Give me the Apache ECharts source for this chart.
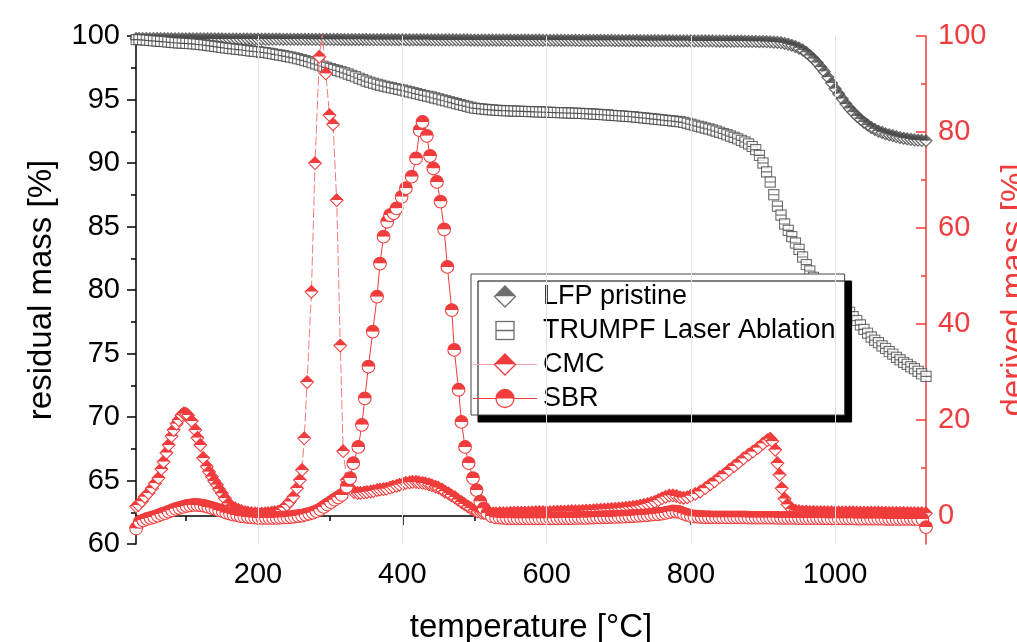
<!DOCTYPE html>
<html>
<head>
<meta charset="utf-8">
<script src="https://cdn.jsdelivr.net/npm/echarts@6/dist/echarts.min.js"></script>
<style>
  html, body { margin: 0; padding: 0; background: #fff; }
  #chart { width: 1017px; height: 642px; }
</style>
</head>
<body>
<div id="chart"></div>
<script>
// residual mass [%] (left axis) - [temperature, value]
var lfpPristine = [
  [31,99.8],[35,99.8],[40,99.8],[45,99.8],[50,99.79],[55,99.79],[60,99.79],[65,99.79],[70,99.79],[75,99.78],
  [80,99.78],[85,99.78],[90,99.78],[95,99.78],[100,99.78],[105,99.78],[110,99.78],[115,99.77],[120,99.77],[125,99.77],
  [130,99.77],[135,99.77],[140,99.77],[145,99.77],[150,99.77],[155,99.76],[160,99.76],[165,99.76],[170,99.76],[175,99.76],
  [180,99.76],[185,99.76],[190,99.76],[195,99.75],[200,99.75],[205,99.75],[210,99.75],[215,99.75],[220,99.75],[225,99.75],
  [230,99.75],[235,99.74],[240,99.74],[245,99.74],[250,99.74],[255,99.74],[260,99.74],[265,99.74],[270,99.74],[275,99.73],
  [280,99.73],[285,99.73],[290,99.73],[295,99.73],[300,99.73],[305,99.73],[310,99.73],[315,99.72],[320,99.72],[325,99.72],
  [330,99.72],[335,99.72],[340,99.72],[345,99.72],[350,99.72],[355,99.71],[360,99.71],[365,99.71],[370,99.71],[375,99.71],
  [380,99.71],[385,99.71],[390,99.71],[395,99.7],[400,99.7],[405,99.7],[410,99.7],[415,99.7],[420,99.7],[425,99.7],
  [430,99.7],[435,99.7],[440,99.7],[445,99.69],[450,99.69],[455,99.69],[460,99.69],[465,99.69],[470,99.69],[475,99.69],
  [480,99.69],[485,99.69],[490,99.69],[495,99.68],[500,99.68],[505,99.68],[510,99.68],[515,99.68],[520,99.68],[525,99.68],
  [530,99.68],[535,99.68],[540,99.68],[545,99.67],[550,99.67],[555,99.67],[560,99.67],[565,99.67],[570,99.67],[575,99.67],
  [580,99.67],[585,99.67],[590,99.67],[595,99.66],[600,99.66],[605,99.66],[610,99.66],[615,99.66],[620,99.66],[625,99.66],
  [630,99.66],[635,99.66],[640,99.66],[645,99.65],[650,99.65],[655,99.65],[660,99.65],[665,99.65],[670,99.65],[675,99.65],
  [680,99.65],[685,99.65],[690,99.65],[695,99.64],[700,99.64],[705,99.64],[710,99.64],[715,99.64],[720,99.64],[725,99.64],
  [730,99.64],[735,99.63],[740,99.63],[745,99.63],[750,99.63],[755,99.63],[760,99.63],[765,99.63],[770,99.63],[775,99.62],
  [780,99.62],[785,99.62],[790,99.62],[795,99.62],[800,99.62],[805,99.61],[810,99.61],[815,99.61],[820,99.61],[825,99.61],
  [830,99.61],[835,99.6],[840,99.6],[845,99.6],[850,99.6],[855,99.59],[860,99.59],[865,99.59],[870,99.59],[875,99.58],
  [880,99.58],[885,99.57],[890,99.57],[895,99.56],[900,99.56],[905,99.55],[910,99.54],[915,99.52],[920,99.5],[925,99.47],
  [930,99.42],[935,99.35],[940,99.27],[945,99.17],[950,99.05],[955,98.9],[960,98.7],[965,98.45],[970,98.2],[975,97.9],
  [980,97.55],[985,97.2],[990,96.75],[995,96.3],[1000,95.85],[1005,95.45],[1010,95.05],[1015,94.65],[1020,94.3],[1025,94.0],
  [1030,93.7],[1035,93.45],[1040,93.2],[1045,93.0],[1050,92.8],[1055,92.65],[1060,92.5],[1065,92.4],[1070,92.3],[1075,92.22],
  [1080,92.15],[1085,92.07],[1090,92.0],[1095,91.95],[1100,91.9],[1105,91.86],[1110,91.82],[1115,91.8],[1120,91.78],[1126,91.75]
];

var trumpfAblation = [
  [31,99.72],[35,99.71],[40,99.7],[45,99.68],[50,99.65],[55,99.62],[60,99.6],[65,99.58],[70,99.56],[75,99.53],
  [80,99.5],[85,99.47],[90,99.45],[95,99.44],[100,99.42],[105,99.4],[110,99.38],[115,99.36],[120,99.33],[125,99.3],
  [130,99.26],[135,99.22],[140,99.18],[145,99.14],[150,99.1],[155,99.06],[160,99.02],[165,98.99],[170,98.96],[175,98.93],
  [180,98.9],[185,98.86],[190,98.82],[195,98.79],[200,98.76],[205,98.73],[210,98.7],[215,98.65],[220,98.6],[225,98.55],
  [230,98.5],[235,98.45],[240,98.4],[245,98.34],[250,98.28],[255,98.21],[260,98.14],[265,98.06],[270,97.98],[275,97.89],
  [280,97.8],[285,97.71],[290,97.62],[295,97.53],[300,97.44],[305,97.36],[310,97.28],[315,97.19],[320,97.1],[325,97.0],
  [330,96.9],[335,96.79],[340,96.68],[345,96.56],[350,96.45],[355,96.36],[360,96.28],[365,96.2],[370,96.12],[375,96.05],
  [380,95.98],[385,95.92],[390,95.86],[395,95.8],[400,95.74],[405,95.67],[410,95.6],[415,95.53],[420,95.46],[425,95.39],
  [430,95.32],[435,95.26],[440,95.2],[445,95.12],[450,95.05],[455,94.97],[460,94.9],[465,94.82],[470,94.75],[475,94.67],
  [480,94.6],[485,94.53],[490,94.46],[495,94.39],[500,94.32],[505,94.29],[510,94.26],[515,94.23],[520,94.2],[525,94.18],
  [530,94.16],[535,94.14],[540,94.12],[545,94.11],[550,94.1],[555,94.09],[560,94.08],[565,94.07],[570,94.06],[575,94.05],
  [580,94.04],[585,94.03],[590,94.02],[595,94.01],[600,94.0],[605,93.99],[610,93.98],[615,93.97],[620,93.96],[625,93.95],
  [630,93.94],[635,93.93],[640,93.92],[645,93.91],[650,93.9],[655,93.88],[660,93.87],[665,93.85],[670,93.84],[675,93.82],
  [680,93.8],[685,93.78],[690,93.76],[695,93.74],[700,93.72],[705,93.7],[710,93.68],[715,93.66],[720,93.64],[725,93.61],
  [730,93.58],[735,93.55],[740,93.52],[745,93.49],[750,93.46],[755,93.43],[760,93.4],[765,93.37],[770,93.34],[775,93.31],
  [780,93.28],[785,93.24],[790,93.2],[795,93.13],[800,93.05],[805,92.98],[810,92.9],[815,92.83],[820,92.75],[825,92.68],
  [830,92.6],[835,92.51],[840,92.42],[845,92.32],[850,92.22],[855,92.12],[860,92.02],[865,91.9],[870,91.78],[875,91.65],
  [880,91.5],[885,91.3],[890,91.05],[895,90.6],[900,90.0],[905,89.3],[910,88.5],[915,87.5],[920,86.6],[925,85.9],
  [930,85.2],[935,84.7],[940,84.2],[945,83.7],[950,83.2],[955,82.6],[960,82.0],[965,81.5],[970,81.0],[975,80.7],
  [980,80.4],[985,80.1],[990,79.85],[995,79.6],[1000,79.35],[1005,79.1],[1010,78.8],[1015,78.5],[1020,78.25],[1025,77.9],
  [1030,77.6],[1035,77.25],[1040,76.9],[1045,76.6],[1050,76.3],[1055,76.05],[1060,75.85],[1065,75.6],[1070,75.4],[1075,75.15],
  [1080,74.95],[1085,74.7],[1090,74.5],[1095,74.3],[1100,74.15],[1105,73.95],[1110,73.8],[1115,73.6],[1120,73.4],[1126,73.2]
];

// derived mass [%] (right axis) - [temperature, value]
var cmc = [
  [31,2.0],[34,2.3],[39,3.1],[43,4.0],[48,4.8],[53,5.8],[57,6.8],[62,7.9],[66,9.8],[69,11.3],
  [73,13.2],[76,14.8],[80,16.6],[83,17.9],[87,19.2],[90,20.0],[94,21.0],[97,21.4],[100,21.3],[103,21.0],
  [108,19.8],[113,17.9],[116,16.3],[120,14.8],[124,12.1],[129,10.3],[132,9.2],[136,8.2],[139,7.3],[143,6.5],
  [146,5.6],[150,4.7],[154,3.7],[159,2.6],[163,2.0],[168,1.6],[173,1.25],[177,1.0],[182,0.8],[186,0.7],
  [191,0.6],[196,0.55],[200,0.5],[205,0.5],[210,0.55],[214,0.6],[219,0.7],[223,0.8],[228,0.9],[232,1.2],
  [236,1.7],[240,2.3],[244,3.0],[249,4.0],[254,5.8],[258,7.5],[261,9.6],[264,16.2],[268,27.9],[274,46.7],
  [279,73.5],[285,95.7],[289,100.5],[294,92.2],[299,83.5],[304,81.6],[309,65.8],[314,35.5],[318,13.5],[323,7.5],
  [328,5.8],[333,5.0],[338,4.8],[342,4.8],[347,4.9],[351,5.0],[356,5.1],[360,5.2],[365,5.4],[369,5.5],
  [374,5.6],[378,5.7],[383,5.9],[387,6.1],[392,6.3],[396,6.5],[401,6.7],[405,6.9],[410,7.0],[414,7.1],
  [419,7.1],[423,7.0],[428,6.9],[432,6.8],[437,6.6],[441,6.4],[446,6.1],[450,5.9],[455,5.5],[459,5.1],
  [464,4.7],[468,4.3],[473,3.9],[477,3.4],[482,2.9],[486,2.5],[491,2.0],[495,1.6],[500,1.2],[504,0.9],
  [509,0.7],[513,0.6],[518,0.5],[522,0.5],[526,0.5],[530,0.55],[535,0.6],[540,0.6],[545,0.6],[550,0.65],
  [555,0.7],[560,0.7],[565,0.7],[570,0.7],[575,0.7],[580,0.75],[585,0.8],[590,0.8],[595,0.8],[600,0.8],
  [605,0.8],[610,0.85],[615,0.9],[620,0.9],[625,0.9],[630,0.95],[635,1.0],[640,1.0],[645,1.0],[650,1.05],
  [655,1.1],[660,1.15],[665,1.2],[670,1.25],[675,1.3],[680,1.35],[685,1.4],[690,1.45],[695,1.5],[700,1.55],
  [705,1.6],[710,1.7],[715,1.8],[720,1.9],[725,2.0],[730,2.15],[735,2.3],[740,2.5],[745,2.7],[750,2.95],
  [755,3.3],[760,3.7],[765,4.0],[770,4.25],[775,4.3],[780,4.15],[785,3.9],[790,3.8],[795,3.9],[800,4.2],
  [806,4.6],[813,5.1],[820,5.8],[827,6.6],[833,7.2],[840,8.1],[846,8.7],[853,9.6],[860,10.4],[866,11.1],
  [873,12.0],[880,12.8],[886,13.4],[893,14.2],[900,15.1],[906,15.8],[910,16.1],[913,15.6],[917,13.8],[920,11.0],
  [923,8.6],[926,5.8],[930,3.6],[934,2.4],[940,1.4],[945,1.1],[950,1.0],[955,0.9],[960,0.9],[965,0.85],
  [970,0.85],[975,0.8],[980,0.8],[985,0.8],[990,0.8],[995,0.8],[1000,0.78],[1005,0.75],[1010,0.75],[1015,0.75],
  [1020,0.75],[1025,0.75],[1030,0.72],[1035,0.7],[1040,0.7],[1045,0.7],[1050,0.7],[1055,0.7],[1060,0.7],[1065,0.7],
  [1070,0.68],[1075,0.65],[1080,0.65],[1085,0.65],[1090,0.65],[1095,0.65],[1100,0.62],[1105,0.6],[1110,0.6],[1115,0.6],
  [1120,0.6],[1126,0.6]
];

var sbr = [
  [31,-2.6],[36,-1.2],[41,-0.9],[46,-0.6],[51,-0.4],[56,-0.2],[61,0.1],[66,0.4],[71,0.6],[76,0.9],
  [81,1.2],[86,1.5],[91,1.7],[96,1.9],[101,2.1],[106,2.2],[111,2.3],[116,2.3],[121,2.2],[126,2.1],
  [131,1.9],[136,1.7],[141,1.5],[146,1.2],[151,1.0],[156,0.7],[161,0.5],[166,0.3],[171,0.2],[176,0.0],
  [181,-0.1],[186,-0.2],[191,-0.3],[196,-0.35],[201,-0.4],[206,-0.4],[211,-0.4],[216,-0.4],[221,-0.4],[226,-0.4],
  [231,-0.35],[236,-0.3],[241,-0.3],[246,-0.2],[251,-0.1],[256,0.0],[261,0.1],[266,0.3],[271,0.5],[276,0.7],
  [281,1.0],[286,1.4],[291,1.9],[296,2.4],[301,2.9],[306,3.4],[311,3.9],[316,4.4],[323,6.1],[327.6,7.9],
  [332,11.0],[339,14.4],[344,19.0],[348,24.5],[353,31.1],[359,38.4],[365,45.7],[369,52.6],[374,58.2],[379,61.3],
  [383,62.7],[388,63.1],[392,64.1],[399,66.5],[405,68.3],[413,70.7],[419,74.5],[424,80.4],[428,82.1],[434,79.2],
  [438.5,75.0],[443,72.4],[448,69.6],[453,65.5],[458,59.7],[462.5,51.9],[468.6,42.9],[472,34.6],[478,26.3],[482,19.6],
  [487,14.4],[492,11.0],[498,7.9],[503,5.4],[508,3.0],[513,1.6],[518,0.6],[524,0.0],[530,-0.3],[535,-0.35],
  [540,-0.4],[545,-0.42],[550,-0.45],[555,-0.48],[560,-0.5],[565,-0.5],[570,-0.5],[575,-0.5],[580,-0.5],[585,-0.5],
  [590,-0.5],[595,-0.5],[600,-0.5],[605,-0.5],[610,-0.5],[615,-0.48],[620,-0.45],[625,-0.45],[630,-0.45],[635,-0.42],
  [640,-0.4],[645,-0.4],[650,-0.4],[655,-0.38],[660,-0.35],[665,-0.32],[670,-0.3],[675,-0.28],[680,-0.25],[685,-0.22],
  [690,-0.2],[695,-0.18],[700,-0.15],[705,-0.12],[710,-0.1],[715,-0.05],[720,0.0],[725,0.05],[730,0.1],[735,0.15],
  [740,0.2],[745,0.28],[750,0.35],[755,0.42],[760,0.5],[765,0.65],[770,0.8],[775,0.95],[780,0.92],[785,0.8],
  [790,0.5],[795,0.25],[800,0.05],[805,-0.1],[810,-0.15],[815,-0.2],[820,-0.22],[825,-0.25],[830,-0.28],[835,-0.3],
  [840,-0.3],[845,-0.3],[850,-0.3],[855,-0.3],[860,-0.3],[865,-0.3],[870,-0.3],[875,-0.3],[880,-0.32],[885,-0.35],
  [890,-0.35],[895,-0.35],[900,-0.35],[905,-0.35],[910,-0.35],[915,-0.35],[920,-0.38],[925,-0.4],[930,-0.4],[935,-0.4],
  [940,-0.4],[945,-0.4],[950,-0.42],[955,-0.45],[960,-0.45],[965,-0.45],[970,-0.45],[975,-0.45],[980,-0.45],[985,-0.45],
  [990,-0.48],[995,-0.5],[1000,-0.5],[1005,-0.5],[1010,-0.5],[1015,-0.5],[1020,-0.5],[1025,-0.5],[1030,-0.52],[1035,-0.55],
  [1040,-0.55],[1045,-0.55],[1050,-0.55],[1055,-0.55],[1060,-0.55],[1065,-0.55],[1070,-0.58],[1075,-0.6],[1080,-0.6],[1085,-0.6],
  [1090,-0.6],[1095,-0.6],[1100,-0.6],[1105,-0.6],[1110,-0.62],[1115,-0.65],[1121,-0.65],[1126,-2.3]
];

var xMajorTicks = [200, 400, 600, 800, 1000];
var xMinorTicks = [100, 300, 500, 700, 900, 1100];
var rightMajorTicks = [0, 20, 40, 60, 80, 100];
var rightMinorTicks = [10, 30, 50, 70, 90];

var FONT = 'Liberation Sans, Arial, sans-serif';
var GREY = '#4a4a4a';
var RED = '#f03c3c';

function svgImage(w, h, body) {
  var svg = '<svg xmlns="http://www.w3.org/2000/svg" width="' + w + '" height="' + h +
    '" viewBox="0 0 ' + w + ' ' + h + '">' + body + '</svg>';
  return 'image://data:image/svg+xml;charset=utf-8,' + encodeURIComponent(svg);
}

// half filled diamond, top half coloured
function halfDiamond(cx, cy, r, c, sw) {
  return '<path d="M' + (cx - r) + ' ' + cy + ' L' + cx + ' ' + (cy - r) + ' L' + (cx + r) + ' ' + cy + ' Z" fill="' + c + '"/>' +
    '<path d="M' + (cx - r) + ' ' + cy + ' L' + cx + ' ' + (cy + r) + ' L' + (cx + r) + ' ' + cy + ' Z" fill="#fff"/>' +
    '<path d="M' + cx + ' ' + (cy - r) + ' L' + (cx + r) + ' ' + cy + ' L' + cx + ' ' + (cy + r) + ' L' + (cx - r) + ' ' + cy +
    ' Z" fill="none" stroke="' + c + '" stroke-width="' + sw + '"/>';
}

function halfCircle(cx, cy, r, c, sw) {
  return '<path d="M' + (cx - r) + ' ' + cy + ' A' + r + ' ' + r + ' 0 0 1 ' + (cx + r) + ' ' + cy + ' Z" fill="' + c + '"/>' +
    '<path d="M' + (cx - r) + ' ' + cy + ' A' + r + ' ' + r + ' 0 0 0 ' + (cx + r) + ' ' + cy + ' Z" fill="#fff"/>' +
    '<circle cx="' + cx + '" cy="' + cy + '" r="' + r + '" fill="none" stroke="' + c + '" stroke-width="' + sw + '"/>';
}

function splitSquare(cx, cy, r, c, sw) {
  return '<rect x="' + (cx - r) + '" y="' + (cy - r) + '" width="' + (2 * r) + '" height="' + (2 * r) +
    '" fill="#fff" stroke="' + c + '" stroke-width="' + sw + '"/>' +
    '<path d="M' + (cx - r) + ' ' + cy + ' H' + (cx + r) + '" stroke="' + c + '" stroke-width="' + sw + '"/>';
}

function lineBar(c, w) {
  return '<path d="M1 12 H65" stroke="' + c + '" stroke-width="' + w + '"/>';
}

var symLfp = svgImage(20, 20, halfDiamond(10, 10, 8.5, GREY, 1.8));
var symTrumpf = svgImage(20, 20, splitSquare(10, 10, 8.5, GREY, 1.9));
var symCmc = svgImage(20, 20, halfDiamond(10, 10, 8.5, RED, 1.4));
var symSbr = svgImage(20, 20, halfCircle(10, 10, 8.5, RED, 1.4));

var iconLfp = svgImage(66, 24, halfDiamond(33, 12, 10.5, GREY, 1.3));
var iconTrumpf = svgImage(66, 24, splitSquare(33, 12, 9, GREY, 1.3));
var iconCmc = svgImage(66, 24, lineBar('#f7a0a0', 1) + halfDiamond(33, 12, 10.5, RED, 1.3));
var iconSbr = svgImage(66, 24, lineBar(RED, 1) + halfCircle(33, 12, 9, RED, 1.3));

function plainNumber(v) { return String(v); }

var chart = echarts.init(document.getElementById('chart'));

var option = {
  animation: false,
  backgroundColor: '#fff',
  grid: { left: 136, top: 36, width: 790, height: 508, outerBoundsMode: 'none', containLabel: false },
  legend: {
    orient: 'vertical',
    left: 471,
    top: 274,
    padding: [9, 9, 3, 1],
    itemWidth: 66,
    itemHeight: 24,
    itemGap: 7,
    selectedMode: false,
    backgroundColor: '#fff',
    borderColor: '#444',
    borderWidth: 1,
    shadowColor: '#000',
    shadowBlur: 0,
    shadowOffsetX: 7,
    shadowOffsetY: 7,
    textStyle: { fontSize: 27, color: '#000', fontFamily: FONT },
    data: [
      { name: 'LFP pristine', icon: iconLfp },
      { name: 'TRUMPF Laser Ablation', icon: iconTrumpf },
      { name: 'CMC', icon: iconCmc },
      { name: 'SBR', icon: iconSbr }
    ]
  },
  xAxis: [{
    type: 'value',
    min: 30.8,
    max: 1126,
    name: 'temperature [°C]',
    nameLocation: 'middle',
    nameGap: 67,
    nameTextStyle: { fontSize: 33, color: '#000', fontFamily: FONT },
    axisLine: { lineStyle: { color: '#000', width: 1.5 } },
    axisTick: { customValues: xMajorTicks, length: 9, lineStyle: { color: '#000', width: 1.5 } },
    axisLabel: { customValues: xMajorTicks, formatter: plainNumber, fontSize: 29, color: '#000', margin: 16, fontFamily: FONT },
    splitLine: { show: false }
  }, {
    type: 'value',
    min: 30.8,
    max: 1126,
    position: 'bottom',
    axisLine: { show: false },
    axisTick: { customValues: xMinorTicks, length: 5, lineStyle: { color: '#000', width: 1.5 } },
    axisLabel: { show: false },
    splitLine: { show: false }
  }],
  yAxis: [{
    type: 'value',
    position: 'left',
    min: 60,
    max: 100,
    interval: 5,
    name: 'residual mass [%]',
    nameLocation: 'middle',
    nameRotate: 90,
    nameGap: 78,
    nameTextStyle: { fontSize: 33, color: '#000', fontFamily: FONT },
    axisLine: { show: true, lineStyle: { color: '#000', width: 1.5 } },
    axisTick: { show: true, length: 9, lineStyle: { color: '#000', width: 1.5 } },
    minorTick: { show: true, splitNumber: 2, length: 5, lineStyle: { color: '#000', width: 1.5 } },
    axisLabel: { formatter: plainNumber, fontSize: 29, color: '#000', margin: 16, fontFamily: FONT },
    splitLine: { show: false }
  }, {
    type: 'value',
    position: 'right',
    min: -5.83,
    max: 100,
    name: 'derived mass [%]',
    nameLocation: 'middle',
    nameRotate: 90,
    nameGap: 72,
    nameTextStyle: { fontSize: 33, color: RED, fontFamily: FONT },
    axisLine: { show: true, lineStyle: { color: RED, width: 1.5 } },
    axisTick: { show: true, inside: true, customValues: rightMajorTicks, length: 10, lineStyle: { color: RED, width: 1.5 } },
    axisLabel: { customValues: rightMajorTicks, formatter: plainNumber, fontSize: 29, color: RED, margin: 12, fontFamily: FONT },
    splitLine: { show: false }
  }, {
    type: 'value',
    position: 'right',
    min: -5.83,
    max: 100,
    axisLine: { show: false },
    axisTick: { show: true, inside: true, customValues: rightMinorTicks, length: 5, lineStyle: { color: RED, width: 1.5 } },
    axisLabel: { show: false },
    splitLine: { show: false }
  }],
  series: [{
    name: 'LFP pristine',
    type: 'scatter',
    xAxisIndex: 0,
    yAxisIndex: 0,
    symbol: symLfp,
    symbolSize: 14,
    data: lfpPristine,
    markLine: {
      silent: true,
      symbol: 'none',
      label: { show: false },
      lineStyle: { color: '#e2e2e2', width: 1, type: 'solid' },
      data: xMajorTicks.map(function (v) { return { xAxis: v }; })
    }
  }, {
    name: 'TRUMPF Laser Ablation',
    type: 'scatter',
    xAxisIndex: 0,
    yAxisIndex: 0,
    symbol: symTrumpf,
    symbolSize: 12,
    data: trumpfAblation
  }, {
    name: 'CMC',
    type: 'line',
    xAxisIndex: 0,
    yAxisIndex: 1,
    symbol: symCmc,
    symbolSize: 15,
    showAllSymbol: true,
    lineStyle: { color: '#f37a7a', width: 1, type: [9, 3] },
    data: cmc
  }, {
    name: 'SBR',
    type: 'line',
    xAxisIndex: 0,
    yAxisIndex: 1,
    symbol: symSbr,
    symbolSize: 15,
    showAllSymbol: true,
    lineStyle: { color: RED, width: 1 },
    data: sbr
  }]
};

chart.setOption(option);
</script>
</body>
</html>
